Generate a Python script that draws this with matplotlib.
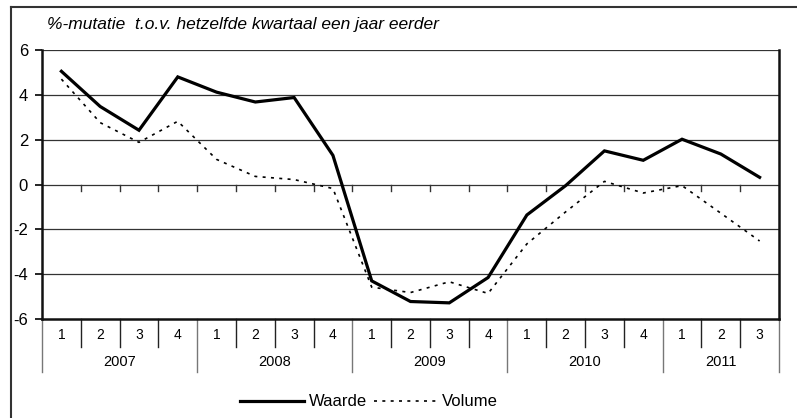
import matplotlib
matplotlib.use("Agg")
import matplotlib.pyplot as plt
from matplotlib.lines import Line2D
from matplotlib.transforms import blended_transform_factory

plt.rcParams['font.family'] = ['Liberation Sans', 'DejaVu Sans']

years = ["2007", "2008", "2009", "2010", "2011"]
quarters = ["1", "2", "3", "4", "1", "2", "3", "4", "1", "2", "3", "4",
            "1", "2", "3", "4", "1", "2", "3"]
waarde = [5.05, 3.48, 2.42, 4.8, 4.12, 3.68, 3.88, 1.3,
          -4.3, -5.22, -5.28, -4.15, -1.36, -0.05, 1.5, 1.08,
          2.02, 1.36, 0.32]
volume = [4.7, 2.76, 1.88, 2.82, 1.12, 0.36, 0.22, -0.18,
          -4.58, -4.82, -4.34, -4.86, -2.65, -1.22, 0.14, -0.38,
          -0.05, -1.28, -2.52]
title = "%-mutatie  t.o.v. hetzelfde kwartaal een jaar eerder"
yticks = [-6, -4, -2, 0, 2, 4, 6]

W, H = 797, 418
fig = plt.figure(figsize=(W / 100, H / 100), dpi=100)
ax = fig.add_axes([42 / W, 1 - 319 / H, (779 - 42) / W, (319 - 50) / H])

n = len(quarters)
xs = [i + 0.5 for i in range(n)]
lw_line, = ax.plot(xs, waarde, color='black', lw=2.3, solid_joinstyle='miter',
                   label='Waarde', zorder=4)
lv_line, = ax.plot(xs, volume, color='black', lw=1.2, linestyle=(0, (1.8, 3.2)),
                   label='Volume', zorder=3)

ax.set_xlim(0, n)
ax.set_ylim(-6, 6)
ax.set_yticks(yticks)
ax.set_yticklabels([str(v) for v in yticks], fontsize=12)
ax.tick_params(axis='y', length=5, width=1.2, pad=5)
ax.set_xticks([])
for v in yticks[1:-1]:
    ax.axhline(v, color='#333333', lw=0.9, zorder=1)
ax.axhline(6, color='#333333', lw=0.9, zorder=1)
for s in ['left', 'right', 'bottom']:
    ax.spines[s].set_linewidth(1.8)
    ax.spines[s].set_color('#111111')
ax.spines['top'].set_visible(False)

# small ticks on zero line
for i in range(1, n):
    ax.plot([i, i], [0, -0.27], color='#333333', lw=1.0, zorder=2)

# category labels
tr = blended_transform_factory(ax.transData, ax.transAxes)
ah = 319 - 50
for i, q in enumerate(quarters):
    ax.text(i + 0.5, -(335 - 319) / ah, q, transform=tr, ha='center', va='center',
            fontsize=10)
year_starts = [0, 4, 8, 12, 16, 19]
for i in range(n + 1):
    if i in year_starts:
        y0 = -(372 - 319) / ah
        col = '#777777'
    else:
        y0 = -(347 - 319) / ah
        col = '#222222'
    ax.plot([i, i], [0, y0], transform=tr, color=col, lw=1.0, clip_on=False)
for k, yr in enumerate(years):
    a, b = year_starts[k], year_starts[k + 1]
    ax.text((a + b) / 2, -(362 - 319) / ah, yr, transform=tr, ha='center', va='center',
            fontsize=10.5)

# title
fig.text(47 / W, 1 - 25 / H, title, ha='left', va='center', fontsize=12.5, style='italic')

# outer frame (partially clipped)
fig.add_artist(Line2D([11 / W, 1.01], [1 - 7 / H, 1 - 7 / H], color='#333333', lw=1.5))
fig.add_artist(Line2D([11 / W, 11 / W], [1 - 7 / H, -0.01], color='#333333', lw=1.5))

leg = ax.legend(handles=[lw_line, lv_line], loc='center', ncol=2, frameon=False,
                bbox_to_anchor=(369 / W, 1 - 402 / H), bbox_transform=fig.transFigure,
                fontsize=12, handlelength=3.8, handletextpad=0.3, columnspacing=0.42,
                borderpad=0)

fig.savefig("out.png", dpi=100)
